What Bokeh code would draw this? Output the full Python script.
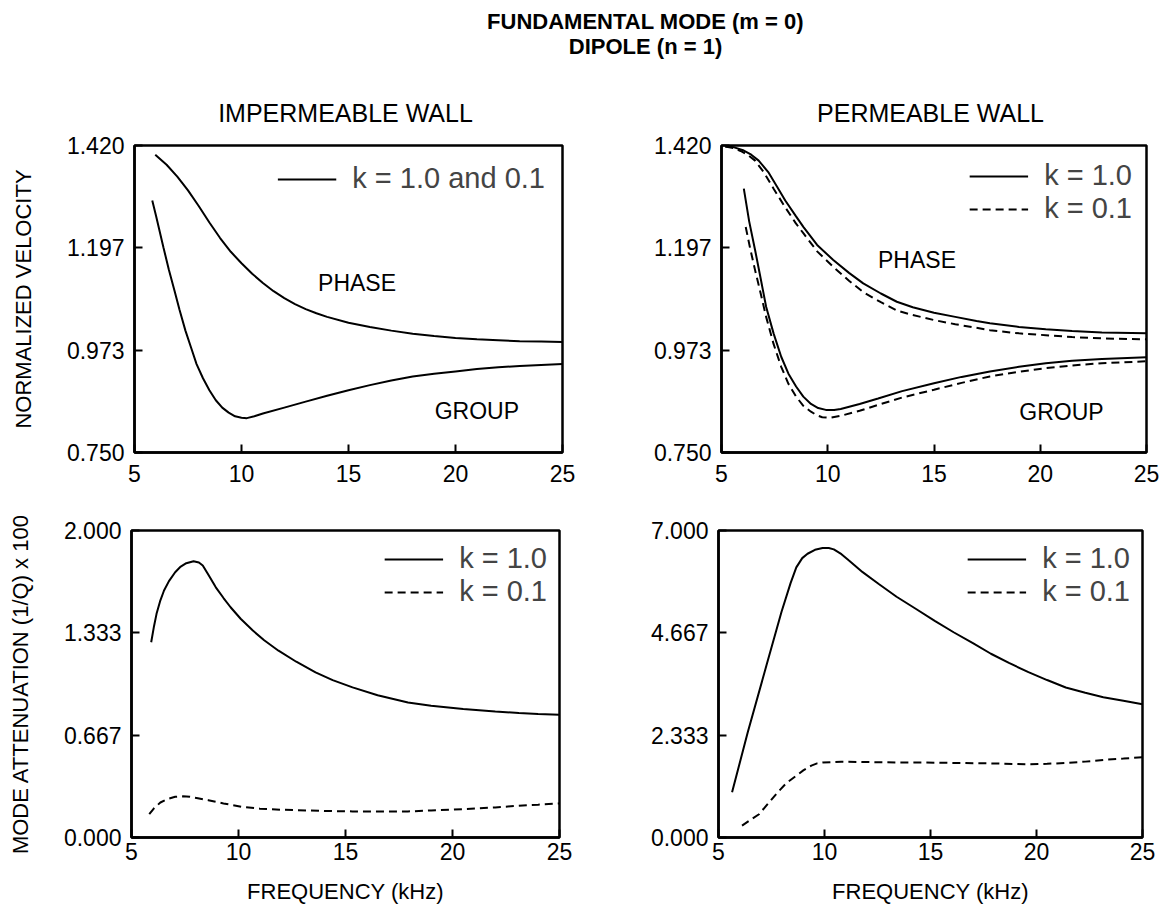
from bokeh.plotting import figure
from bokeh.layouts import column, row
from bokeh.models import Range1d, FixedTicker, Legend, LegendItem, Label
from bokeh.core.properties import value
from bokeh.embed import file_html
from bokeh.resources import INLINE

FONT = "Liberation Sans"

# ---------------- data ----------------
# Impermeable wall, velocity (k = 1.0 and 0.1 coincide)
imp_phase_f = [5.97, 6.5, 7.0, 7.5, 8.0, 8.5, 9.0, 9.5, 10.0, 10.5, 11.0, 11.5, 12.0, 12.5, 13.0, 13.5,
               14.0, 15.0, 16.0, 17.0, 18.0, 19.0, 20.0, 21.0, 22.0, 23.0, 24.0, 25.0]
imp_phase_v = [1.400, 1.378, 1.352, 1.322, 1.288, 1.252, 1.218, 1.188, 1.163, 1.140, 1.120, 1.102, 1.087,
               1.074, 1.063, 1.054, 1.046, 1.033, 1.024, 1.016, 1.009, 1.004, 1.000, 0.997, 0.995, 0.993,
               0.992, 0.991]
imp_group_f = [5.83, 6.0, 6.35, 6.6, 6.87, 7.1, 7.38, 7.65, 7.9, 8.2, 8.5, 8.8, 9.1, 9.4, 9.7, 10.0, 10.25,
               10.6, 11.0, 12.0, 13.0, 14.0, 15.0, 16.0, 17.0, 18.0, 19.0, 20.0, 21.0, 22.0, 23.0, 24.0, 25.0]
imp_group_v = [1.300, 1.268, 1.198, 1.150, 1.103, 1.062, 1.016, 0.978, 0.943, 0.912, 0.886, 0.864, 0.848,
               0.837, 0.829, 0.826, 0.825, 0.829, 0.835, 0.848, 0.861, 0.874, 0.886, 0.897, 0.907, 0.916,
               0.922, 0.927, 0.932, 0.936, 0.939, 0.941, 0.943]

# Permeable wall, velocity
perm_phase1_f = [5.18, 5.6, 6.05, 6.4, 6.75, 7.2, 7.63, 8.0, 8.5, 8.86, 9.5, 10.26, 11.0, 11.67, 12.5, 13.25,
                 14.0, 15.0, 16.0, 17.0, 17.63, 19.0, 20.26, 21.5, 22.9, 25.0]
perm_phase1_v = [1.418, 1.416, 1.409, 1.400, 1.387, 1.362, 1.329, 1.300, 1.266, 1.242, 1.203, 1.170, 1.142,
                 1.119, 1.097, 1.079, 1.067, 1.055, 1.046, 1.037, 1.032, 1.024, 1.019, 1.015, 1.012, 1.010]
perm_phase01_f = [5.18, 5.6, 5.9, 6.25, 6.58, 7.0, 7.46, 8.0, 8.5, 8.86, 9.5, 10.26, 11.0, 11.67, 12.5, 13.25,
                  14.0, 15.0, 16.0, 17.63, 19.0, 20.26, 21.5, 22.9, 25.0]
perm_phase01_v = [1.418, 1.414, 1.408, 1.399, 1.387, 1.361, 1.325, 1.285, 1.250, 1.228, 1.189, 1.155, 1.125,
                  1.100, 1.078, 1.060, 1.050, 1.039, 1.030, 1.017, 1.010, 1.006, 1.002, 0.999, 0.997]
perm_group1_f = [6.05, 6.3, 6.58, 6.85, 7.1, 7.45, 7.81, 8.15, 8.51, 8.85, 9.21, 9.55, 9.91, 10.3, 10.61,
                 11.5, 12.37, 13.5, 15.0, 16.3, 17.63, 19.0, 20.26, 21.5, 22.9, 25.0]
perm_group1_v = [1.326, 1.255, 1.192, 1.128, 1.068, 1.010, 0.959, 0.922, 0.894, 0.872, 0.856, 0.847, 0.843,
                 0.843, 0.845, 0.856, 0.868, 0.884, 0.901, 0.915, 0.927, 0.937, 0.945, 0.950, 0.954, 0.958]
perm_group01_f = [6.14, 6.35, 6.58, 6.85, 7.1, 7.45, 7.81, 8.15, 8.51, 8.85, 9.21, 9.5, 9.74, 10.1, 10.61,
                  11.5, 12.37, 13.5, 15.0, 16.3, 17.63, 19.0, 20.26, 21.5, 22.9, 25.0]
perm_group01_v = [1.242, 1.195, 1.148, 1.096, 1.046, 0.987, 0.937, 0.900, 0.872, 0.852, 0.839, 0.831, 0.827,
                  0.826, 0.830, 0.841, 0.854, 0.870, 0.887, 0.902, 0.916, 0.926, 0.934, 0.940, 0.945, 0.949]

# Impermeable wall, attenuation
imp_att1_f = [5.92, 6.05, 6.17, 6.35, 6.52, 6.75, 7.04, 7.3, 7.56, 7.9, 8.15, 8.33, 8.6, 8.94, 9.3, 9.63,
              10.1, 10.67, 11.2, 11.87, 12.7, 13.6, 14.4, 15.33, 16.5, 17.92, 19.0, 20.5, 22.0, 23.1, 24.0, 25.0]
imp_att1_v = [1.272, 1.375, 1.457, 1.545, 1.609, 1.670, 1.728, 1.765, 1.787, 1.800, 1.792, 1.772, 1.710,
              1.630, 1.560, 1.500, 1.425, 1.348, 1.285, 1.217, 1.145, 1.076, 1.025, 0.978, 0.927, 0.880,
              0.858, 0.837, 0.821, 0.811, 0.805, 0.800]
imp_att01_f = [5.83, 6.05, 6.35, 6.7, 7.04, 7.4, 7.73, 8.1, 8.59, 9.3, 10.15, 11.0, 12.0, 12.74, 14.0, 15.33,
               16.5, 17.92, 19.0, 20.5, 22.0, 23.1, 24.0, 25.0]
imp_att01_v = [0.152, 0.190, 0.228, 0.252, 0.265, 0.268, 0.265, 0.256, 0.243, 0.222, 0.200, 0.188, 0.181,
               0.178, 0.173, 0.170, 0.169, 0.170, 0.176, 0.185, 0.196, 0.207, 0.214, 0.222]

# Permeable wall, attenuation
perm_att1_f = [5.64, 6.38, 7.26, 7.97, 8.4, 8.67, 8.95, 9.2, 9.55, 9.91, 10.2, 10.44, 10.8, 11.14, 11.8,
               12.56, 13.4, 14.32, 15.2, 16.09, 17.0, 17.85, 18.7, 19.62, 20.5, 21.38, 22.3, 23.15, 24.1, 25.0]
perm_att1_v = [1.03, 2.40, 3.92, 5.14, 5.80, 6.16, 6.37, 6.47, 6.56, 6.60, 6.60, 6.57, 6.46, 6.32, 6.05,
               5.78, 5.49, 5.21, 4.94, 4.68, 4.43, 4.19, 3.98, 3.77, 3.59, 3.42, 3.30, 3.20, 3.12, 3.04]
perm_att01_f = [6.11, 6.5, 6.91, 7.35, 7.79, 8.2, 8.67, 9.0, 9.38, 9.65, 9.91, 10.79, 12.0, 13.44, 14.8,
                16.09, 17.8, 19.62, 20.5, 21.38, 22.3, 23.15, 24.1, 25.0]
perm_att01_v = [0.27, 0.40, 0.53, 0.78, 1.03, 1.24, 1.41, 1.53, 1.64, 1.69, 1.71, 1.73, 1.72, 1.71, 1.71,
                1.70, 1.69, 1.67, 1.68, 1.70, 1.73, 1.77, 1.80, 1.83]

x_ticks = [5, 10, 15, 20, 25]
x_tick_labels = ["5", "10", "15", "20", "25"]
vel_ticks = [0.750, 0.97333, 1.19667, 1.420]
vel_tick_labels = ["0.750", "0.973", "1.197", "1.420"]
imp_att_ticks = [0.0, 0.66667, 1.33333, 2.0]
imp_att_tick_labels = ["0.000", "0.667", "1.333", "2.000"]
perm_att_ticks = [0.0, 2.33333, 4.66667, 7.0]
perm_att_tick_labels = ["0.000", "2.333", "4.667", "7.000"]

DASH = "8 5"
LW = 2


def panel(bl, br, bt, bb, frame_w, frame_h, yr, yticks, ylabels, xstand, ylab=None, xlab=None):
    p = figure(width=bl + br + frame_w, height=bt + bb + frame_h, output_backend="svg",
               toolbar_location=None, x_range=Range1d(5, 25), y_range=Range1d(*yr),
               min_border_left=bl, min_border_right=br, min_border_top=bt, min_border_bottom=bb,
               frame_width=frame_w, frame_height=frame_h)
    p.grid.visible = False
    p.outline_line_color = "black"
    p.outline_line_width = 2.5
    p.background_fill_color = "white"
    p.border_fill_color = "white"
    for ax in (p.xaxis[0], p.yaxis[0]):
        ax.axis_line_width = 2.5
        ax.axis_line_color = "black"
        ax.major_tick_in = 8
        ax.major_tick_out = 0
        ax.major_tick_line_width = 2
        ax.minor_tick_line_color = None
        ax.major_label_text_font = FONT
        ax.major_label_text_font_size = "23px"
        ax.major_label_text_color = "black"
        ax.axis_label_text_font = FONT
        ax.axis_label_text_font_size = "22px"
        ax.axis_label_text_font_style = "normal"
        ax.axis_label_text_color = "black"
    p.xaxis.ticker = FixedTicker(ticks=x_ticks)
    p.xaxis.major_label_overrides = {t: l for t, l in zip(x_ticks, x_tick_labels)}
    p.yaxis.ticker = FixedTicker(ticks=yticks)
    p.yaxis.major_label_overrides = {t: l for t, l in zip(yticks, ylabels)}
    p.xaxis.major_label_standoff = xstand
    p.yaxis.major_label_standoff = 10
    if ylab:
        p.yaxis.axis_label = ylab
        p.yaxis.axis_label_standoff = 28
    if xlab:
        p.xaxis.axis_label = xlab
        p.xaxis.axis_label_standoff = 16
    return p


def add_legend(p, items, margin=16):
    lg = Legend(items=items, location="top_right", border_line_color=None,
                background_fill_alpha=0, label_text_font=FONT, label_text_font_size="29px",
                glyph_width=59, glyph_height=24, label_standoff=16, padding=0, margin=margin,
                spacing=-8, label_height=24)
    p.add_layout(lg)


def txt(p, x, y, s):
    p.add_layout(Label(x=x, y=y, text=s, text_font=FONT, text_font_size="23px",
                       text_align="center", text_baseline="middle", text_color="black"))


# ---- title figure ----
tf = figure(width=1167, height=130, output_backend="svg", toolbar_location=None,
            x_range=Range1d(0, 1167), y_range=Range1d(130, 0),
            min_border=0, min_border_left=0, min_border_right=0, min_border_top=0, min_border_bottom=0)
tf.axis.visible = False
tf.grid.visible = False
tf.outline_line_color = None
tf.text(x=[645, 645], y=[21, 46], text=["FUNDAMENTAL MODE (m = 0)", "DIPOLE (n = 1)"],
        text_font=value(FONT), text_font_size="22px", text_font_style="bold",
        text_align="center", text_baseline="middle", text_color="black")
tf.text(x=[345, 930], y=[112, 112], text=["IMPERMEABLE WALL", "PERMEABLE WALL"],
        text_font=value(FONT), text_font_size="25px",
        text_align="center", text_baseline="middle", text_color="black")

# ---- top-left ----
p1 = panel(134, 78, 15, 40, 428, 307, (0.75, 1.42), vel_ticks, vel_tick_labels, 12,
           ylab="NORMALIZED VELOCITY")
r1 = p1.line(imp_phase_f, imp_phase_v, line_color="black", line_width=LW)
p1.line(imp_group_f, imp_group_v, line_color="black", line_width=LW)
txt(p1, 15.4, 1.121, "PHASE")
txt(p1, 21.0, 0.841, "GROUP")
add_legend(p1, [LegendItem(label="k = 1.0 and 0.1", renderers=[r1])], margin=17)

# ---- top-right ----
p2 = panel(81, 21, 15, 40, 425, 307, (0.75, 1.42), vel_ticks, vel_tick_labels, 12)
a = p2.line(perm_phase1_f, perm_phase1_v, line_color="black", line_width=LW)
b = p2.line(perm_phase01_f, perm_phase01_v, line_color="black", line_width=LW, line_dash=DASH)
p2.line(perm_group1_f, perm_group1_v, line_color="black", line_width=LW)
p2.line(perm_group01_f, perm_group01_v, line_color="black", line_width=LW, line_dash=DASH)
txt(p2, 14.2, 1.17, "PHASE")
txt(p2, 21.0, 0.839, "GROUP")
add_legend(p2, [LegendItem(label="k = 1.0", renderers=[a]), LegendItem(label="k = 0.1", renderers=[b])],
           margin=14)

# ---- bottom-left ----
p3 = panel(131, 81, 38, 74, 428, 307, (0.0, 2.0), imp_att_ticks, imp_att_tick_labels, 5,
           ylab="MODE ATTENUATION (1/Q) x 100", xlab="FREQUENCY (kHz)")
c = p3.line(imp_att1_f, imp_att1_v, line_color="black", line_width=LW)
d = p3.line(imp_att01_f, imp_att01_v, line_color="black", line_width=LW, line_dash=DASH)
add_legend(p3, [LegendItem(label="k = 1.0", renderers=[c]), LegendItem(label="k = 0.1", renderers=[d])],
           margin=12)

# ---- bottom-right ----
p4 = panel(78, 25, 38, 74, 424, 307, (0.0, 7.0), perm_att_ticks, perm_att_tick_labels, 5,
           xlab="FREQUENCY (kHz)")
e = p4.line(perm_att1_f, perm_att1_v, line_color="black", line_width=LW)
f = p4.line(perm_att01_f, perm_att01_v, line_color="black", line_width=LW, line_dash=DASH)
add_legend(p4, [LegendItem(label="k = 1.0", renderers=[e]), LegendItem(label="k = 0.1", renderers=[f])],
           margin=12)

layout = column(tf, row(p1, p2), row(p3, p4))
open("out.html", "w").write(file_html(layout, INLINE))
